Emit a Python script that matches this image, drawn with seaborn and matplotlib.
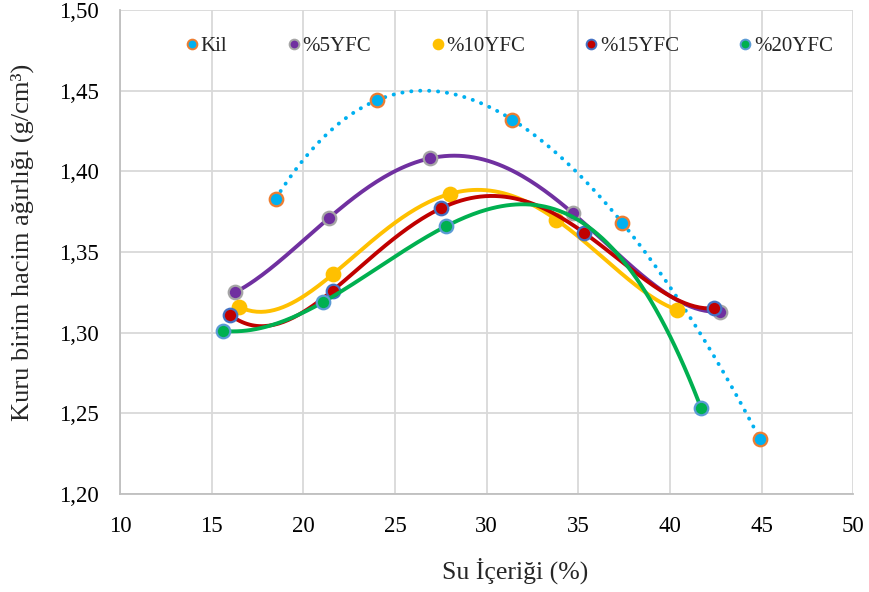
"""Su içeriği - kuru birim hacim ağırlığı eğrileri (seaborn)"""
import numpy as np
import pandas as pd
import matplotlib
matplotlib.use("Agg")
import matplotlib.pyplot as plt
from matplotlib.lines import Line2D
from matplotlib.ticker import FuncFormatter, MultipleLocator
import seaborn as sns

sns.set_style("whitegrid")
plt.rcParams["font.family"] = ["Liberation Serif", "DejaVu Serif"]

series_names = ["Kil", "%5YFC", "%10YFC", "%15YFC", "%20YFC"]

kil_x = [18.5, 24.0, 31.4, 37.4, 44.9]
kil_y = [1.383, 1.444, 1.432, 1.368, 1.234]
yfc5_x = [16.3, 21.4, 26.9, 34.7, 42.7]
yfc5_y = [1.325, 1.371, 1.408, 1.374, 1.313]
yfc10_x = [16.5, 21.6, 28.0, 33.8, 40.4]
yfc10_y = [1.316, 1.336, 1.386, 1.370, 1.314]
yfc15_x = [16.0, 21.6, 27.5, 35.3, 42.4]
yfc15_y = [1.311, 1.326, 1.377, 1.362, 1.315]
yfc20_x = [15.6, 21.1, 27.8, 41.7]
yfc20_y = [1.301, 1.319, 1.366, 1.253]

all_x = [kil_x, yfc5_x, yfc10_x, yfc15_x, yfc20_x]
all_y = [kil_y, yfc5_y, yfc10_y, yfc15_y, yfc20_y]

fill_colors = ["#00B0F0", "#7030A0", "#FFC000", "#C00000", "#00B050"]
edge_colors = ["#ED7D31", "#A5A5A5", "#FFC000", "#4472C4", "#5B9BD5"]
line_colors = ["#00B0F0", "#7030A0", "#FFC000", "#C00000", "#00B050"]


def trendline(xs, ys, n=200):
    """polinom eğilim çizgisi (nokta sayısı - 1 derece)"""
    poly = np.polynomial.Polynomial.fit(xs, ys, len(xs) - 1)
    gx = np.linspace(min(xs), max(xs), n)
    return gx, poly(gx)


fig, ax = plt.subplots(figsize=(8.69, 5.92), dpi=100)
fig.subplots_adjust(left=0.138, right=0.982, top=0.983, bottom=0.166)

for i, name in enumerate(series_names):
    cx, cy = trendline(all_x[i], all_y[i])
    curve = pd.DataFrame({"x": cx, "y": cy})
    if i == 0:
        ls = (0, (0.05, 2.25))
    else:
        ls = "-"
    sns.lineplot(data=curve, x="x", y="y", sort=False, estimator=None,
                 color=line_colors[i], lw=2.8, ls=ls, ax=ax,
                 solid_capstyle="round", dash_capstyle="round", zorder=3 + i)
    pts = pd.DataFrame({"x": all_x[i], "y": all_y[i]})
    sns.scatterplot(data=pts, x="x", y="y", color=fill_colors[i],
                    edgecolor=edge_colors[i], linewidth=1.6, s=95,
                    ax=ax, zorder=3.5 + i)

ax.set_xlim(10, 50)
ax.set_ylim(1.20, 1.50)
ax.xaxis.set_major_locator(MultipleLocator(5))
ax.yaxis.set_major_locator(MultipleLocator(0.05))
ax.yaxis.set_major_formatter(FuncFormatter(lambda v, _: f"{v:.2f}".replace(".", ",")))
ax.grid(True, color="#D9D9D9", lw=1.3)
for s in ["top", "right"]:
    ax.spines[s].set_visible(False)
for s in ["left", "bottom"]:
    ax.spines[s].set_color("#BFBFBF")
    ax.spines[s].set_linewidth(1.3)
ax.tick_params(axis="both", labelsize=16.5, length=0, colors="black")
ax.tick_params(axis="x", pad=16)
ax.tick_params(axis="y", pad=15)

ax.set_xlabel("Su İçeriği (%)", fontsize=18.5)
ax.set_ylabel("Kuru birim hacim ağırlığı (g/cm³)", fontsize=19)
ax.xaxis.set_label_coords(0.539, -0.133)
ax.yaxis.set_label_coords(-0.117, 0.52)

handles = [Line2D([], [], ls="", marker="o", markersize=7,
                  markerfacecolor=fill_colors[i], markeredgecolor=edge_colors[i],
                  markeredgewidth=1.4) for i in range(len(series_names))]
ax.legend(handles, series_names, loc="center", bbox_to_anchor=(0.531, 0.925),
          ncol=5, frameon=False, fontsize=15, handletextpad=0.1,
          columnspacing=2.9, handlelength=0.6)

fig.savefig("out.png", dpi=100)
